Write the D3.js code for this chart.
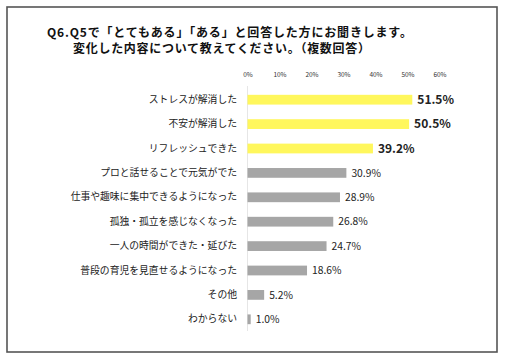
<!DOCTYPE html>
<html><head><meta charset="utf-8">
<script src="https://cdn.jsdelivr.net/npm/d3@7"></script>
<style>
body{margin:0;background:#fff;}
text{font-family:"Noto Sans CJK JP","Noto Sans",sans-serif;}
</style></head><body>
<svg id="c" width="505" height="358"></svg>
<script>
const titleLines = ["Q6.Q5で「とてもある」「ある」と回答した方にお聞きします。","変化した内容について教えてください。（複数回答）"];
const categories = ["ストレスが解消した","不安が解消した","リフレッシュできた","プロと話せることで元気がでた","仕事や趣味に集中できるようになった","孤独・孤立を感じなくなった","一人の時間ができた・延びた","普段の育児を見直せるようになった","その他","わからない"];
const values = [51.5,50.5,39.2,30.9,28.9,26.8,24.7,18.6,5.2,1.0];
const highlighted = [true,true,true,false,false,false,false,false,false,false];
const ticks = [0,10,20,30,40,50,60];

const svg = d3.select("#c");
svg.append("rect").attr("x",7).attr("y",7).attr("width",490).attr("height",345)
  .attr("fill","#fff").attr("stroke","#555").attr("stroke-width",1.6);

svg.append("text").attr("x",47).attr("y",37).attr("font-size",12).attr("font-weight","bold").attr("fill","#111")
  .attr("textLength",365).attr("lengthAdjust","spacing").text(titleLines[0]);
svg.append("text").attr("x",73).attr("y",52.5).attr("font-size",12).attr("font-weight","bold").attr("fill","#111")
  .attr("textLength",297).attr("lengthAdjust","spacing").text(titleLines[1]);

const x = d3.scaleLinear().domain([0,60]).range([247.5,439.5]);
const y = d3.scaleBand().domain(categories).range([87.5,331.5]).paddingInner(0.6).paddingOuter(0.3);

const xAxis = d3.axisTop(x).tickValues(ticks).tickFormat(d=>d+"%").tickSize(0);
const gx = svg.append("g").attr("transform","translate(0,80)").call(xAxis);
gx.select(".domain").remove();
gx.selectAll("text").attr("font-size",6.5).attr("fill","#333").attr("font-family","Verdana,DejaVu Sans,sans-serif");

svg.append("line").attr("x1",x(0)).attr("x2",x(0)).attr("y1",86).attr("y2",331).attr("stroke","#e6e6e6").attr("stroke-width",1);

const yAxis = d3.axisLeft(y).tickSize(0).tickPadding(0);
const gy = svg.append("g").attr("transform","translate(237,0)").call(yAxis);
gy.select(".domain").remove();
gy.selectAll("text").attr("font-size",9.8).attr("fill","#222");

svg.selectAll("rect.bar").data(values).enter().append("rect").attr("class","bar")
  .attr("x",x(0)).attr("y",(d,i)=>y(categories[i]))
  .attr("width",d=>x(d)-x(0)).attr("height",y.bandwidth())
  .attr("fill",(d,i)=>highlighted[i]?"#FFF75C":"#A6A6A6");

svg.selectAll("text.val").data(values).enter().append("text").attr("class","val")
  .attr("x",(d,i)=>x(d)+5)
  .attr("y",(d,i)=>y(categories[i])+y.bandwidth()/2)
  .attr("dy","0.36em")
  .attr("font-family","Verdana,DejaVu Sans,sans-serif")
  .attr("font-size",(d,i)=>highlighted[i]?12:10.3)
  .attr("font-weight",(d,i)=>highlighted[i]?"bold":"normal")
  .attr("fill","#222")
  .text(d=>d.toFixed(1)+"%");
</script></body></html>
